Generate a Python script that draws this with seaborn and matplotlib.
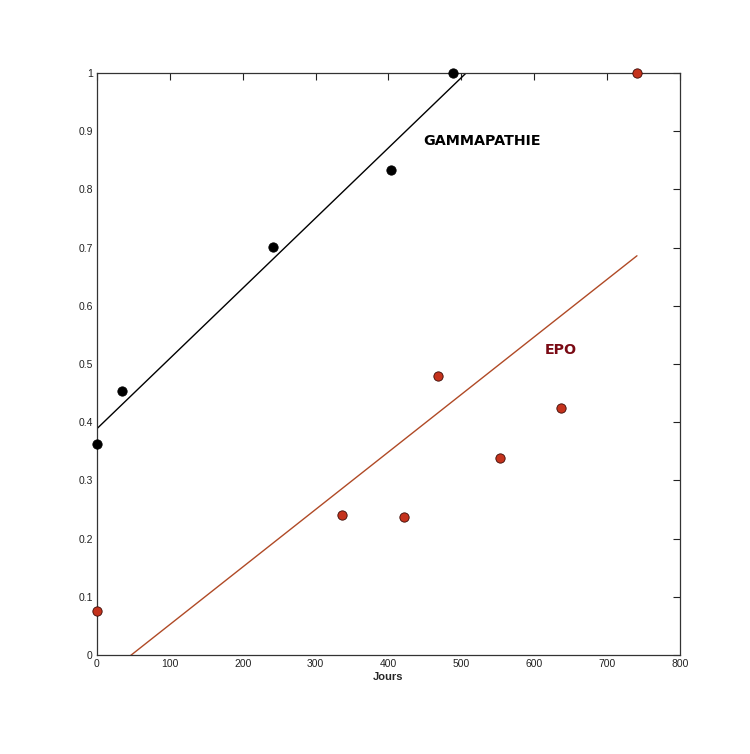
import matplotlib
matplotlib.use("Agg")
import matplotlib.pyplot as plt
import numpy as np
import pandas as pd
import seaborn as sns

# Data
gamma_days = [0, 34, 241, 403, 488]
gamma_vals = [0.363, 0.454, 0.701, 0.833, 1.0]

epo_days = [0, 336, 421, 468, 553, 637, 741]
epo_vals = [0.076, 0.240, 0.237, 0.479, 0.338, 0.424, 1.0]

x_ticks = [0, 100, 200, 300, 400, 500, 600, 700, 800]
y_ticks = [0, 0.1, 0.2, 0.3, 0.4, 0.5, 0.6, 0.7, 0.8, 0.9, 1]

sns.set_style("white")
plt.rcParams["font.family"] = ["Liberation Sans", "DejaVu Sans"]

df_g = pd.DataFrame({"jours": gamma_days, "val": gamma_vals})
df_e = pd.DataFrame({"jours": epo_days, "val": epo_vals})

# Linear fits
pg = np.polyfit(df_g["jours"], df_g["val"], 1)
pe = np.polyfit(df_e["jours"], df_e["val"], 1)
x_fit = np.array([0, max(epo_days)])
fit_g = pd.DataFrame({"jours": x_fit, "val": np.polyval(pg, x_fit)})
fit_e = pd.DataFrame({"jours": x_fit, "val": np.polyval(pe, x_fit)})

fig = plt.figure(figsize=(7.5, 7.54), dpi=100)
ax = fig.add_axes([0.1293, 0.1313, 0.7773, 0.7719])

sns.lineplot(data=fit_g, x="jours", y="val", color="black", lw=1.0, ax=ax)
sns.lineplot(data=fit_e, x="jours", y="val", color="#b04a26", lw=1.0, ax=ax)

sns.scatterplot(data=df_g, x="jours", y="val", color="black", edgecolor="black",
                s=45, linewidth=0.6, ax=ax, clip_on=False, zorder=5)
sns.scatterplot(data=df_e, x="jours", y="val", color="#c4321c", edgecolor="#3a0a05",
                s=45, linewidth=0.6, ax=ax, clip_on=False, zorder=5)

ax.text(529, 0.883, "GAMMAPATHIE", fontsize=10.3, fontweight="bold",
        family="DejaVu Sans", color="black", ha="center", va="center")
ax.text(637, 0.524, "EPO", fontsize=10.3, fontweight="bold",
        family="DejaVu Sans", color="#7a0a14", ha="center", va="center")

ax.set_xlim(0, 800)
ax.set_ylim(0, 1)
ax.set_xticks(x_ticks)
ax.set_xticklabels([str(t) for t in x_ticks])
ax.set_yticks(y_ticks)
ax.set_yticklabels(["0"] + [f"{t:g}" for t in y_ticks[1:]])
ax.tick_params(direction="in", length=5, width=0.8, labelsize=7.5,
               top=True, right=True, colors="#222222", pad=3)
ax.set_xlabel("Jours", fontsize=8, fontweight="bold", labelpad=2)
ax.set_ylabel("")
for s in ax.spines.values():
    s.set_color("#333333")
    s.set_linewidth(0.9)

fig.savefig("out.png", dpi=100, facecolor="white")
